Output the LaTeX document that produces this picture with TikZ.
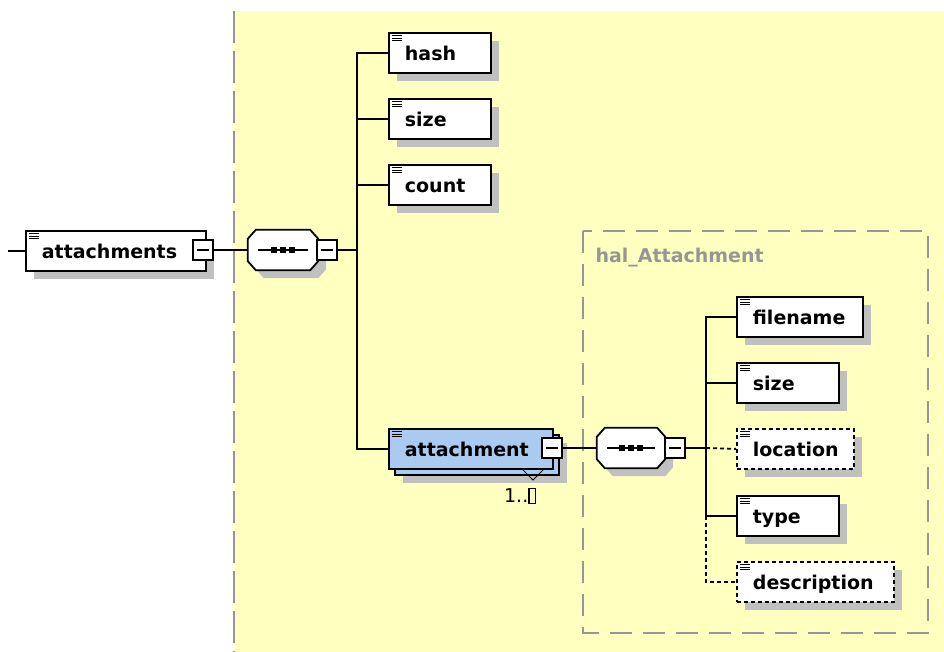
\documentclass[tikz,border=0pt]{standalone}
\usepackage{fontspec}
\setmainfont{DejaVu Sans}
\usetikzlibrary{shadows}

\definecolor{areayellow}{RGB}{255,255,192}
\definecolor{shadowgray}{RGB}{192,192,192}
\definecolor{framegray}{RGB}{150,150,150}
\definecolor{attblue}{RGB}{170,202,240}

\tikzset{
  elembase/.style={draw, line width=1.8pt, fill=white, anchor=north west,
    minimum height=40pt, inner xsep=16pt, inner ysep=0pt, align=left,
    text height=16pt, text depth=0pt, font=\fontsize{19}{22}\selectfont\bfseries,
    path picture={\foreach \ky in {3,5.5,8}
      \draw[solid,line width=1pt] ([shift={(3pt,-\ky pt)}]path picture bounding box.north west) -- ++(10pt,0pt);}},
  elem/.style={elembase,
    drop shadow={shadow xshift=8pt, shadow yshift=-8pt, fill=shadowgray, opacity=1, draw=none}},
  optelem/.style={elem, dash pattern=on 4pt off 3pt},
  multielem/.style={elembase, fill=attblue,
    drop shadow={shadow xshift=14pt, shadow yshift=-14pt, fill=shadowgray, opacity=1, draw=none},
    copy shadow={shadow xshift=6pt, shadow yshift=-6pt, fill=attblue, draw=black}},
  seqbox/.style={minimum height=40pt, inner sep=0pt},
  seqpath/.style={draw, line width=1.8pt, fill=white,
    drop shadow={shadow xshift=8pt, shadow yshift=-8pt, fill=shadowgray, opacity=1, draw=none}},
  expbox/.style={draw, line width=1.5pt, fill=white, minimum size=20pt, inner sep=0pt,
    path picture={\draw[line width=1.5pt] ([xshift=4pt]path picture bounding box.west) -- ([xshift=-4pt]path picture bounding box.east);}},
  conn/.style={line width=1.8pt},
  optconn/.style={conn, dash pattern=on 4pt off 3pt}
}

% sequence compositor drawn round a named node
\newcommand{\seqsymbol}[1]{%
  \path[seqpath] ([xshift=8pt]#1.north west) -- ([xshift=-8pt]#1.north east)
    -- ([yshift=-9pt]#1.north east) -- ([yshift=9pt]#1.south east)
    -- ([xshift=-8pt]#1.south east) -- ([xshift=8pt]#1.south west)
    -- ([yshift=9pt]#1.south west) -- ([yshift=-9pt]#1.north west) -- cycle;
  \draw[line width=1.5pt] ([xshift=10pt]#1.west) -- ([xshift=-10pt]#1.east);
  \foreach \dx in {-9,0,9}
    \fill ([xshift=\dx pt]#1.center) +(-3pt,-3pt) rectangle +(3pt,3pt);}

\begin{document}
\begin{tikzpicture}[x=1pt,y=-1pt]
  \pgfmathsetmacro\rowstep{66}
  \pgfmathsetmacro\outertop{32}
  \pgfmathsetmacro\innertop{296}
  \useasboundingbox (0,0) rectangle (944,652);

% yellow area and group frame
  \fill[areayellow] (234,11) rectangle (944,652);
  \draw[framegray,line width=2pt,dash pattern=on 32pt off 8pt] (234,11) -- (234,652);
  \draw[framegray,line width=2pt,dash pattern=on 22pt off 11pt] (583,231) rectangle (928,633);
  \node[anchor=west,text=framegray,font=\fontsize{19}{22}\selectfont\bfseries] (grouptitle) at (592,258) {hal\_Attachment};

% root element
  \node[elem,text width=148pt] (attachments) at (25,230) {attachments};
  \node[seqbox,minimum width=70pt] (seqouter) at (283,250) {};
  \seqsymbol{seqouter}

% outer children
  \node[elem,text width=70pt] (hash) at (388,\outertop) {hash};
  \node[elem,text width=70pt] (size) at (388,\outertop+\rowstep) {size};
  \node[elem,text width=70pt] (count) at (388,\outertop+2*\rowstep) {count};
  \node[multielem,text width=132pt] (attachment) at (388,428) {attachment};
  \draw[line width=1pt] (523,470) -- (533,480) -- (543,470);
  \node[font=\fontsize{19}{22}\selectfont] (attmult) at (520,496)
    {1..\setlength{\fboxsep}{0pt}\setlength{\fboxrule}{1.3pt}\fbox{\vphantom{1}\hspace{5pt}}};
  \node[seqbox,minimum width=68pt] (seqinner) at (631,448) {};
  \seqsymbol{seqinner}

% inner children
  \node[elem,text width=94pt] (filename) at (736,\innertop) {filename};
  \node[elem,text width=70pt] (innersize) at (736,\innertop+\rowstep) {size};
  \node[optelem,text width=85pt] (location) at (736,\innertop+2*\rowstep) {location};
  \node[elem,text width=70pt] (type) at (736,\innertop+3*\rowstep+1) {type};
  \node[optelem,text width=125pt] (description) at (736,\innertop+4*\rowstep+1) {description};

% expand boxes
  \node[expbox] (attachmentsexp) at (203,250) {};
  \node[expbox] (seqouterexp) at (327,250) {};
  \node[expbox] (attachmentexp) at (552,448) {};
  \node[expbox] (seqinnerexp) at (675,448) {};

% connectors
  \coordinate (rootin) at ([xshift=-17pt]attachments.west);
  \coordinate (forkouter) at (357,250);
  \coordinate (forkinner) at (706,448);
  \draw[conn] (rootin) -- (attachments.west);
  \draw[conn] (attachmentsexp.east) -- (seqouter.west);
  \draw[conn] (seqouterexp.east) -- (forkouter);
  \draw[conn] (forkouter) |- (hash.west);
  \draw[conn] (forkouter) |- (size.west);
  \draw[conn] (forkouter) |- (count.west);
  \draw[conn] (forkouter) |- (attachment.west);
  \draw[conn] (attachmentexp.east) -- (seqinner.west);
  \draw[conn] (seqinnerexp.east) -- (forkinner);
  \draw[conn] (forkinner) |- (filename.west);
  \draw[conn] (forkinner) |- (innersize.west);
  \draw[optconn] (forkinner) -- (location.west);
  \draw[conn] (forkinner) |- (type.west);
  \draw[optconn] (type.west -| forkinner) |- (description.west);
\end{tikzpicture}
\end{document}
